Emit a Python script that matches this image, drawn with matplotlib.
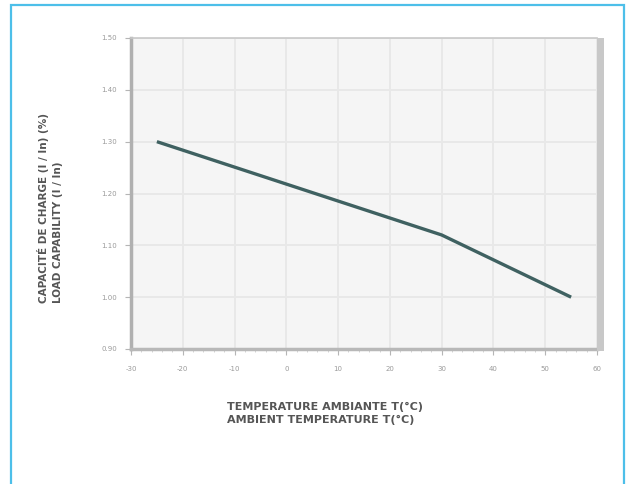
import matplotlib

matplotlib.use("Agg")
import matplotlib.pyplot as plt
from matplotlib.patches import Rectangle
from matplotlib.ticker import MultipleLocator

temperature_c = [-25, 30, 55]
load_factor = [1.30, 1.12, 1.00]

x_ticks = [-30, -20, -10, 0, 10, 20, 30, 40, 50, 60]
y_ticks = [0.90, 1.00, 1.10, 1.20, 1.30, 1.40, 1.50]

W, H = 627, 484
fig = plt.figure(figsize=(W / 100, H / 100), dpi=100)
fig.patch.set_facecolor("white")

# plot area in pixels: x 131..597, y 38..349
ax = fig.add_axes([131 / W, 1 - 349 / H, (597 - 131) / W, (349 - 38) / H])
ax.set_facecolor("#f5f5f5")
ax.plot(temperature_c, load_factor, color="#3f6161", linewidth=2.4, solid_capstyle="butt")

ax.set_xlim(-30, 60)
ax.set_ylim(0.90, 1.50)
ax.set_xticks(x_ticks)
ax.set_yticks(y_ticks)
ax.set_xticklabels([str(t) for t in x_ticks])
ax.set_yticklabels([f"{t:.2f}" for t in y_ticks])
ax.xaxis.set_minor_locator(MultipleLocator(2))
ax.tick_params(axis="both", labelsize=5, colors="#b5b5b5", labelcolor="#9a9a9a", length=4, width=0.8)
ax.tick_params(axis="x", which="minor", length=2, width=0.6, colors="#cccccc")
ax.tick_params(axis="x", pad=8)
ax.tick_params(axis="y", pad=6)
ax.grid(True, color="#e8e8e8", linewidth=1.4)
ax.set_axisbelow(True)

ax.spines["left"].set_color("#b0b0b0")
ax.spines["left"].set_linewidth(2.5)
ax.spines["bottom"].set_color("#b8b8b8")
ax.spines["bottom"].set_linewidth(2.5)
ax.spines["top"].set_color("#c8c8c8")
ax.spines["top"].set_linewidth(1.2)
ax.spines["right"].set_visible(False)

# shaded bar on the right edge of the plot
fig.add_artist(Rectangle((597 / W, 1 - 351 / H), 7 / W, (351 - 38) / H,
                         transform=fig.transFigure, facecolor="#c8c8c8", edgecolor="none"))

# axis titles
fig.text(227 / W, 1 - 407 / H, "TEMPERATURE AMBIANTE T(°C)", fontsize=8, fontweight="bold",
         color="#555555", ha="left", va="center")
fig.text(227 / W, 1 - 420 / H, "AMBIENT TEMPERATURE T(°C)", fontsize=8, fontweight="bold",
         color="#555555", ha="left", va="center")
fig.text(43 / W, 1 - 303 / H, "CAPACITÉ DE CHARGE (I / In) (%)", fontsize=7.5, fontweight="bold",
         color="#555555", rotation=90, ha="center", va="bottom")
fig.text(58 / W, 1 - 303 / H, "LOAD CAPABILITY (I / In)", fontsize=7.5, fontweight="bold",
         color="#555555", rotation=90, ha="center", va="bottom")

# blue frame around the figure
fig.add_artist(Rectangle((11 / W, -0.01), (624 - 11) / W, 1 - 5 / H + 0.01,
                         transform=fig.transFigure, facecolor="none", edgecolor="#4dbfe9", linewidth=1.6))

fig.savefig("out.png", dpi=100)
